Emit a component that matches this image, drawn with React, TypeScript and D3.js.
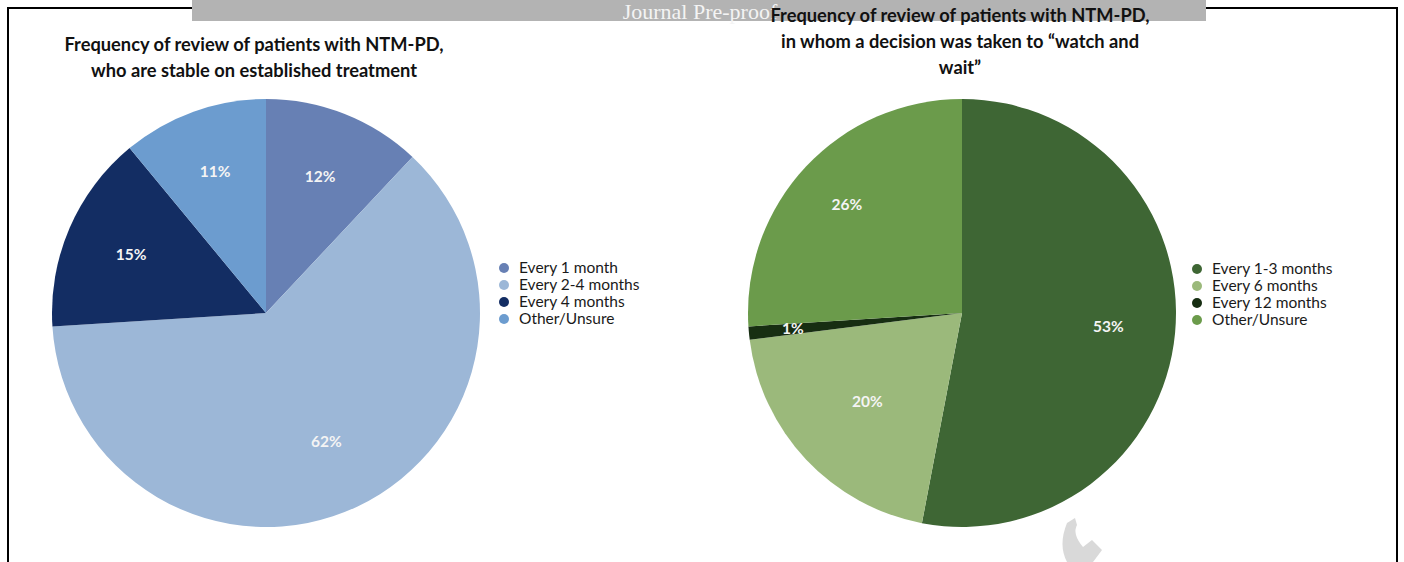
import React from "react";
import * as d3 from "d3";

const leftCategories = ["Every 1 month", "Every 2-4 months", "Every 4 months", "Other/Unsure"];
const leftValues = [12, 62, 15, 11];
const leftColors = ["#6780b4", "#9cb7d7", "#132d63", "#6c9ccf"];
const leftTitle = ["Frequency of review of patients with NTM-PD,", "who are stable on established treatment"];

const rightCategories = ["Every 1-3 months", "Every 6 months", "Every 12 months", "Other/Unsure"];
const rightValues = [53, 20, 1, 26];
const rightColors = ["#3e6634", "#9bb97b", "#172e12", "#6b9b4b"];
const rightTitle = ["Frequency of review of patients with NTM-PD,", "in whom a decision was taken to \u201cwatch and", "wait\u201d"];

const FONT = "Lato, 'Open Sans', sans-serif";

type PieProps = {
  cx: number; cy: number; r: number;
  values: number[]; colors: string[]; categories: string[];
  title: string[]; titleX: number; titleY: number;
  legendX: number; legendY: number;
  labelRadius: number[];
};

function Pie({ cx, cy, r, values, colors, categories, title, titleX, titleY, legendX, legendY, labelRadius }: PieProps) {
  const pie = d3.pie<number>().sort(null).value((d) => d);
  const arcs = pie(values);
  const arc = d3.arc<d3.PieArcDatum<number>>().innerRadius(0).outerRadius(r);
  return (
    <g>
      {title.map((t, i) => (
        <text key={i} x={titleX} y={titleY + i * 26} textAnchor="middle" fontFamily={FONT} fontWeight="bold" fontSize={18.3} fill="#111">{t}</text>
      ))}
      <g transform={`translate(${cx},${cy})`}>
        {arcs.map((a, i) => (
          <path key={i} d={arc(a) || ""} fill={colors[i]} />
        ))}
        {arcs.map((a, i) => {
          const la = d3.arc<d3.PieArcDatum<number>>().innerRadius(labelRadius[i]).outerRadius(labelRadius[i]);
          const [x, y] = la.centroid(a);
          return (
            <text key={"l" + i} x={x} y={y} dy="0.35em" textAnchor="middle" fontFamily={FONT} fontWeight="bold" fontSize={15.5} fill="#f4f4f4">{values[i]}%</text>
          );
        })}
      </g>
      {categories.map((c, i) => (
        <g key={c} transform={`translate(${legendX},${legendY + i * 17})`}>
          <circle cx={0} cy={0} r={5} fill={colors[i]} />
          <text x={15} y={0} dy="0.35em" fontFamily={FONT} fontSize={15.5} fill="#1a1a1a">{c}</text>
        </g>
      ))}
    </g>
  );
}

export default function App() {
  return (
    <svg width={1404} height={562} style={{ position: "absolute", left: 0, top: 0 }}>
      <rect x={0} y={0} width={1404} height={562} fill="#fff" />
      <rect x={8} y={8} width={1389} height={600} fill="none" stroke="#000" strokeWidth={2} />
      <rect x={192} y={0} width={1014} height={21} fill="#b3b3b3" />
      <text x={700} y={19} textAnchor="middle" fontFamily="'Liberation Serif', serif" fontSize={22} fill="#f4f4f4">Journal Pre-proof</text>
      <path d="M1067,523 L1075,518 L1077,525 Q1072,534 1083,547 L1092,540 L1102,550 L1093,562 L1067,562 Q1058,545 1067,523 Z" fill="#d9d9d9" />
      <Pie cx={266} cy={313} r={214} values={leftValues} colors={leftColors} categories={leftCategories}
        title={leftTitle} titleX={254} titleY={51} legendX={504} legendY={268}
        labelRadius={[147, 142, 147, 150]} />
      <Pie cx={962} cy={313} r={214} values={rightValues} colors={rightColors} categories={rightCategories}
        title={rightTitle} titleX={960} titleY={22} legendX={1197} legendY={269}
        labelRadius={[147, 130, 170, 158]} />
    </svg>
  );
}
